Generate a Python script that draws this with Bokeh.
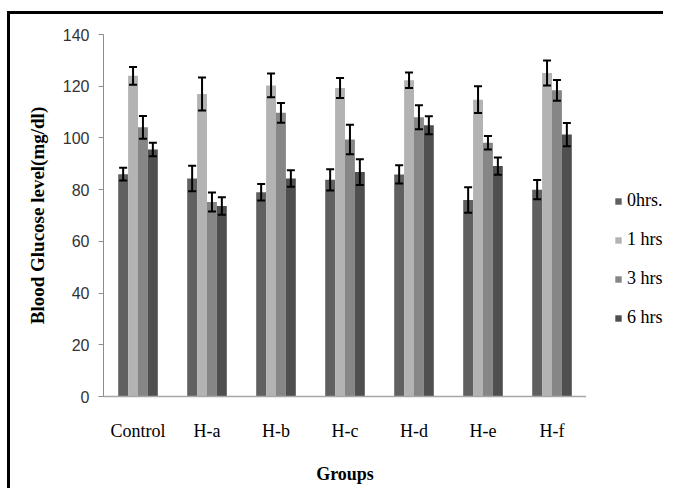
from bokeh.plotting import figure
from bokeh.models import ColumnDataSource, FixedTicker, Legend, LegendItem, FactorRange, Div, Spacer
from bokeh.layouts import row, column
from bokeh.transform import dodge
from bokeh.embed import file_html
from bokeh.resources import INLINE

groups = ["Control", "H-a", "H-b", "H-c", "H-d", "H-e", "H-f"]
series_names = ["0hrs.", "1 hrs", "3 hrs", "6 hrs"]

hrs0 = [86.0, 84.3, 79.0, 83.8, 85.9, 76.0, 80.0]
err0 = [2.5, 4.9, 3.2, 4.1, 3.5, 4.9, 3.7]
hrs1 = [124.0, 117.0, 120.3, 119.3, 122.3, 114.8, 125.1]
err1 = [3.4, 6.4, 4.6, 3.9, 3.0, 5.2, 4.8]
hrs3 = [104.1, 75.2, 109.7, 99.4, 108.0, 98.1, 118.4]
err3 = [4.4, 3.7, 3.8, 5.7, 4.6, 2.6, 4.0]
hrs6 = [95.5, 73.7, 84.3, 86.8, 104.9, 89.1, 101.3]
err6 = [2.6, 3.4, 3.2, 5.0, 3.5, 3.3, 4.5]

y_ticks = [0, 20, 40, 60, 80, 100, 120, 140]

colors = ["#606060", "#b3b3b3", "#868686", "#4f4f4f"]
values = [hrs0, hrs1, hrs3, hrs6]
errors = [err0, err1, err3, err6]

bar_w = 0.1435
offsets = [-1.5 * bar_w, -0.5 * bar_w, 0.5 * bar_w, 1.5 * bar_w]

W, H = 576, 474
ML, MR, MT, MB = 93, 0, 20, 92
LW = 77  # legend strip width

p = figure(
    x_range=FactorRange(*groups, range_padding=0),
    y_range=(0, 140),
    width=W, height=H,
    min_border_left=ML, min_border_right=MR,
    min_border_top=MT, min_border_bottom=MB,
    output_backend="svg", toolbar_location=None,
    background_fill_color="white", border_fill_color="white",
)
p.outline_line_color = None
p.xgrid.grid_line_color = None
p.ygrid.grid_line_color = None

for name, vals, errs, col, off in zip(series_names, values, errors, colors, offsets):
    src = ColumnDataSource(dict(
        g=groups, v=vals,
        hi=[a + b for a, b in zip(vals, errs)],
        lo=[a - b for a, b in zip(vals, errs)],
    ))
    p.vbar(x=dodge("g", off, range=p.x_range), top="v", bottom=0, width=bar_w,
           source=src, fill_color=col, line_color=None)
    p.segment(x0=dodge("g", off, range=p.x_range), x1=dodge("g", off, range=p.x_range),
              y0="lo", y1="hi", source=src, line_color="black", line_width=2)
    p.scatter(x=dodge("g", off, range=p.x_range), y="hi", marker="dash", size=8,
              source=src, line_color="black", line_width=2)
    p.scatter(x=dodge("g", off, range=p.x_range), y="lo", marker="dash", size=8,
              source=src, line_color="black", line_width=2)

# y axis
p.yaxis.ticker = FixedTicker(ticks=y_ticks)
p.yaxis.axis_line_color = "#8c8c8c"
p.yaxis.major_tick_line_color = "#8c8c8c"
p.yaxis.major_tick_out = 5
p.yaxis.major_tick_in = 0
p.yaxis.minor_tick_line_color = None
p.yaxis.major_label_standoff = 9
p.yaxis.major_label_text_font = "Liberation Sans"
p.yaxis.major_label_text_font_size = "16px"
p.yaxis.major_label_text_color = "#333333"
p.yaxis.axis_label = "Blood Glucose level(mg/dl)"
p.yaxis.axis_label_text_font = "Liberation Serif"
p.yaxis.axis_label_text_font_style = "bold"
p.yaxis.axis_label_text_font_size = "19px"
p.yaxis.axis_label_text_color = "black"
p.yaxis.axis_label_standoff = 12

# x axis
p.xaxis.axis_line_color = "#a6a6a6"
p.xaxis.axis_line_width = 1.5
p.xaxis.major_tick_line_color = None
p.xaxis.major_tick_out = 0
p.xaxis.minor_tick_line_color = None
p.xaxis.major_label_standoff = 24
p.xaxis.major_label_text_font = "Liberation Serif"
p.xaxis.major_label_text_font_size = "18px"
p.xaxis.major_label_text_color = "black"
p.xaxis.axis_label = "Groups"
p.xaxis.axis_label_text_font = "Liberation Serif"
p.xaxis.axis_label_text_font_style = "bold"
p.xaxis.axis_label_text_font_size = "18px"
p.xaxis.axis_label_text_color = "black"
p.xaxis.axis_label_standoff = 20

# legend strip to the right of the plot (proxy glyphs of zero height)
lf = figure(width=LW, height=H, x_range=(0, 1), y_range=(0, 1),
            min_border=0, output_backend="svg", toolbar_location=None,
            background_fill_color="white", border_fill_color="white")
lf.outline_line_color = None
lf.axis.visible = False
lf.grid.visible = False
items = []
for name, col in zip(series_names, colors):
    r = lf.vbar(x=[0.5], top=[0], bottom=[0], width=0.1, fill_color=col, line_color=None)
    items.append(LegendItem(label=name, renderers=[r]))
legend = Legend(items=items, location=(28, 68), orientation="vertical",
                glyph_width=8, glyph_height=8, label_height=20, spacing=18,
                label_standoff=5, padding=0, margin=0,
                border_line_color=None, background_fill_alpha=0,
                label_text_font="Liberation Serif", label_text_font_size="18px",
                label_text_color="black")
lf.add_layout(legend, "center")

# black border of the original chart box (left and top edges)
top_line = Div(text="", width=W + LW, height=3, margin=0, styles={"background-color": "black"})
left_line = Div(text="", width=3, height=H + 3, margin=0, styles={"background-color": "black"})
layout = column(
    Spacer(width=W + LW + 10, height=11, margin=0),
    row(Spacer(width=7, height=H + 3, margin=0), left_line,
        column(top_line, row(p, lf, spacing=0, margin=0), spacing=0, margin=0),
        spacing=0, margin=0),
    spacing=0, margin=0,
)

open("out.html", "w").write(file_html(layout, INLINE))
